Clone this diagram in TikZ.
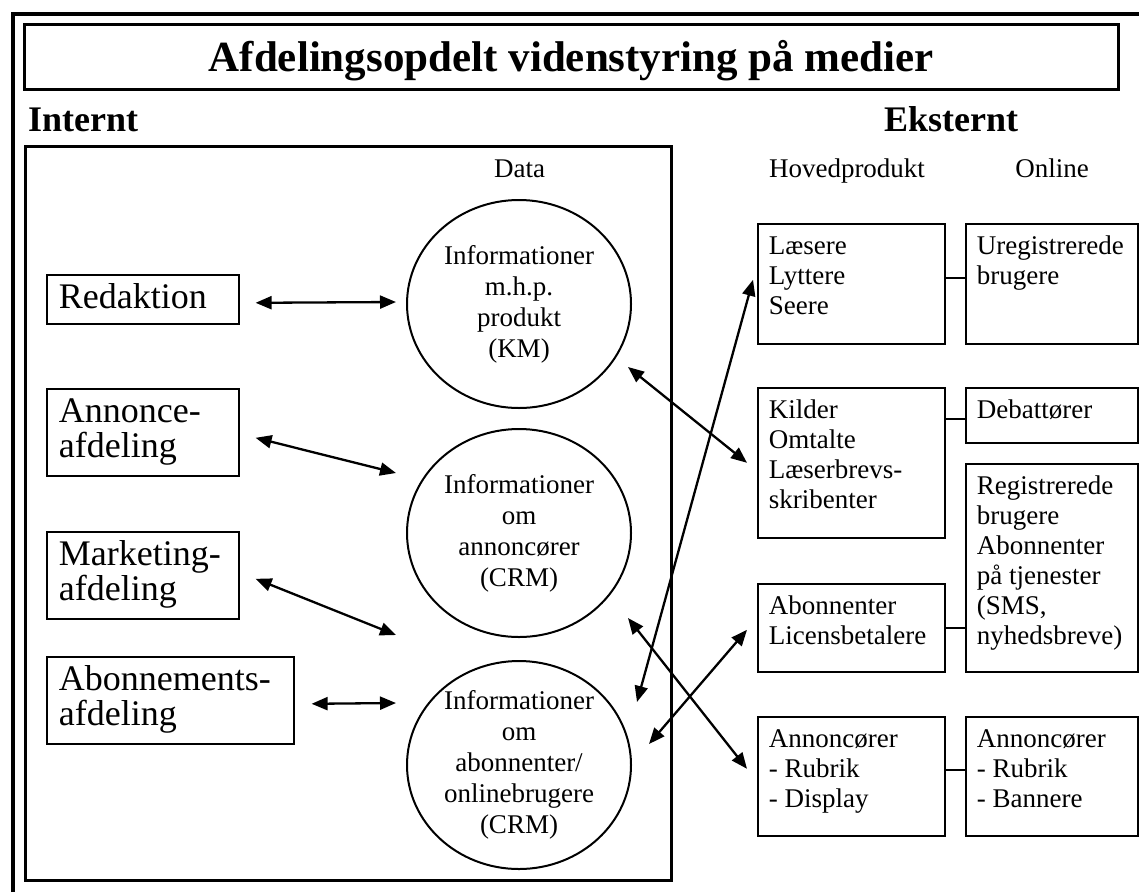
\documentclass[tikz,border=0pt]{standalone}
\usepackage{fontspec}
\setmainfont{Liberation Serif}
\usetikzlibrary{arrows.meta,shapes.geometric}

% top-aligned box bodies: width, height, lines
\newcommand\extbody[3]{\parbox[t][#2][t]{#1}{\raggedright\leftskip=11pt\relax\rule{0pt}{31pt}#3}}
\newcommand\intbody[3]{\parbox[t][#2][t]{#1}{\raggedright\leftskip=12pt\relax\rule{0pt}{34pt}#3}}

\tikzset{
  frame/.style={line width=4.5pt},
  titlebox/.style={draw, line width=3pt, inner sep=0pt, minimum width=1093.5pt,
    text height=46.5pt, text depth=18.5pt, font=\bfseries\fontsize{43}{46}\selectfont},
  heading/.style={anchor=base west, inner sep=0pt, font=\bfseries\fontsize{36}{40}\selectfont},
  colhead/.style={anchor=base, inner sep=0pt, font=\fontsize{27}{30}\selectfont},
  container/.style={draw, line width=3pt, inner sep=0pt, anchor=north west},
  deptbox/.style={draw, line width=1.6pt, inner sep=0pt, anchor=north west,
    font=\fontsize{36}{35}\selectfont},
  extbox/.style={draw, line width=1.6pt, inner sep=0pt, anchor=north west,
    font=\fontsize{27}{30}\selectfont},
  datacirc/.style={draw, ellipse, line width=2pt, inner sep=0pt,
    minimum width=224pt, minimum height=208pt},
  circtext/.style={align=center, inner sep=0pt, font=\fontsize{27}{31}\selectfont},
  arr/.style={{Triangle[length=16pt,width=13pt]}-{Triangle[length=16pt,width=13pt]}, line width=2.3pt},
  link/.style={line width=2pt}
}

\begin{document}
\begin{tikzpicture}[x=1pt,y=-1pt]
\useasboundingbox (0,0) rectangle (1139,892);

% outer frame (open to the right and bottom)
\draw[frame] (13,892) -- (13,14) -- (1139,14);

% title
\node[titlebox, anchor=base] (title) at (571.25,71) {Afdelingsopdelt videnstyring på medier};

% section headings
\node[heading] (internt) at (28,131) {Internt};
\node[heading] (eksternt) at (884,131) {Eksternt};

% internal area
\node[container, minimum width=646pt, minimum height=734pt] (intern) at (23.5,144.5) {};
\node[colhead] (data) at (519.5,177) {Data};
\node[colhead] (hoved) at (847,177) {Hovedprodukt};
\node[colhead] (online) at (1052,177) {Online};

% departments
\node[deptbox] (red) at (46,274) {\intbody{192pt}{49pt}{Redaktion}};
\node[deptbox] (ann) at (46,388) {\intbody{192pt}{87pt}{Annonce-\\afdeling}};
\node[deptbox] (mkt) at (46,531) {\intbody{192pt}{87pt}{Marketing-\\afdeling}};
\node[deptbox] (abo) at (46,656) {\intbody{247pt}{87pt}{Abonnements-\\afdeling}};

% data stores
\node[datacirc] (c1) at (519,304) {};
\node[datacirc] (c2) at (519,533) {};
\node[datacirc] (c3) at (519,765) {};
\node[circtext] (c1t) at (c1.center) {Informationer\\m.h.p.\\produkt\\(KM)};
\node[circtext] (c2t) at (c2.center) {Informationer\\om\\annoncører\\(CRM)};
\node[circtext] (c3t) at (c3.center) {Informationer\\om\\abonnenter/\\onlinebrugere\\(CRM)};

% external groups: main product
\node[extbox] (laes) at (757,223) {\extbody{187pt}{120pt}{Læsere\\Lyttere\\Seere}};
\node[extbox] (kild) at (757,387) {\extbody{187pt}{150pt}{Kilder\\Omtalte\\Læserbrevs-\\skribenter}};
\node[extbox] (abn) at (757,583) {\extbody{187pt}{88pt}{Abonnenter\\Licensbetalere}};
\node[extbox] (annc) at (757,716) {\extbody{187pt}{119pt}{Annoncører\\- Rubrik\\- Display}};

% external groups: online
\node[extbox] (ureg) at (965,223) {\extbody{172pt}{120pt}{Uregistrerede\\brugere}};
\node[extbox] (deb) at (965,387) {\extbody{172pt}{55pt}{Debattører}};
\node[extbox] (reg) at (965,463) {\extbody{172pt}{208pt}{Registrerede\\brugere\\Abonnenter\\på tjenester\\(SMS,\\nyhedsbreve)}};
\node[extbox] (anon) at (965,716) {\extbody{172pt}{119pt}{Annoncører\\- Rubrik\\- Bannere}};

% links between main product and online groups
\draw[link] ([yshift=6pt]laes.east) -- ([yshift=6pt]ureg.west);
\draw[link] ([yshift=44pt]kild.east) -- ([yshift=-3.5pt]deb.west);
\draw[link] (abn.east) -- (abn.east -| reg.west);
\draw[link] ([yshift=6.5pt]annc.east) -- ([yshift=6.5pt]anon.west);

% departments <-> data
\draw[arr] ([shift={(16,3.5)}]red.east) -- ([shift={(-10,-2)}]c1.west);
\draw[arr] ([shift={(16,5.5)}]ann.east) -- ([shift={(-10,-60)}]c2.west);
\draw[arr] ([shift={(16,3.5)}]mkt.east) -- ([shift={(-10,-130)}]c3.west);
\draw[arr] ([shift={(17,3.5)}]abo.east) -- ([shift={(-10,-62)}]c3.west);

% data <-> external groups
\draw[arr] ([shift={(109,63)}]c1.center) -- ([shift={(-10,0)}]kild.west);
\draw[arr] ([shift={(118,-63)}]c3.center) -- ([shift={(-4,-4)}]laes.west);
\draw[arr] ([shift={(109,85)}]c2.center) -- ([shift={(-10,-7.5)}]annc.west);
\draw[arr] ([shift={(130,-21)}]c3.center) -- ([shift={(-10,2)}]abn.west);
\end{tikzpicture}
\end{document}
